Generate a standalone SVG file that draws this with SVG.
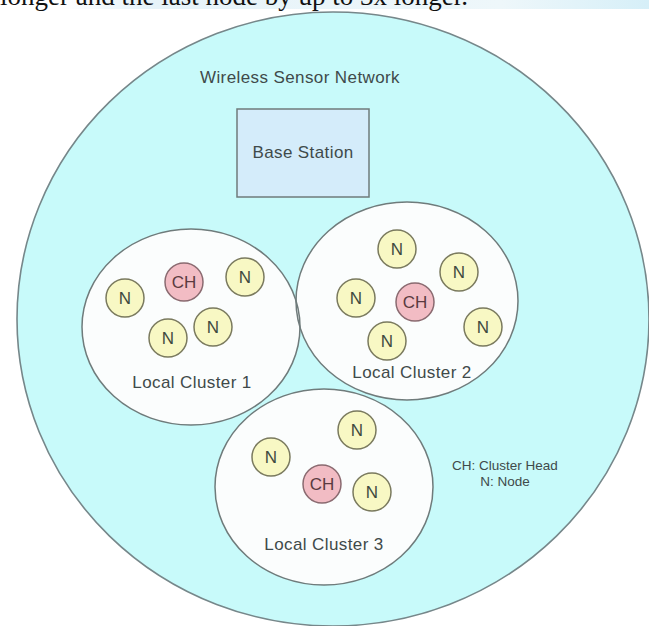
<svg xmlns="http://www.w3.org/2000/svg" width="649" height="626" viewBox="0 0 649 626">
  <style>
    .lbl { font-family: "Liberation Sans", Arial, sans-serif; font-size: 17px; letter-spacing: 0.4px; fill: #404a4a; text-anchor: middle; }
    .legend { font-family: "Liberation Sans", Arial, sans-serif; font-size: 13.5px; fill: #404a4a; text-anchor: middle; }
    .cluster-fill { fill: #fbfdfd; stroke: none; }
    .cluster-edge { fill: none; stroke: #6f7b7b; stroke-width: 1.5; }
    .n circle { fill: #f8f8c4; stroke: #7a7a5e; stroke-width: 1.5; }
    .ch circle { fill: #f2bcc4; stroke: #8a6a70; stroke-width: 1.5; }
    .n text, .ch text { font-family: "Liberation Sans", Arial, sans-serif; font-size: 17px; text-anchor: middle; }
    .n text { fill: #404a40; }
    .ch text { fill: #5a3a40; }
  </style>
  <defs>
    <linearGradient id="band" x1="0" y1="0" x2="1" y2="0">
      <stop offset="0" stop-color="#ffffff"/>
      <stop offset="0.15" stop-color="#e6f3f9"/>
      <stop offset="0.75" stop-color="#eef7fa"/>
      <stop offset="1" stop-color="#d6eff8"/>
    </linearGradient>
  </defs>

  <rect width="649" height="626" fill="#ffffff"/>

  <!-- page strip and running text above the figure -->
  <rect x="60" y="0" width="589" height="9" fill="url(#band)"/>
  <text x="0" y="5" font-family="'Liberation Serif', 'Times New Roman', serif" font-size="27" fill="#111111">longer and the last node by up to 3x longer.</text>

  <!-- network boundary -->
  <g id="network">
    <ellipse cx="333" cy="319" rx="316" ry="307" fill="#c8fafa" stroke="#76878a" stroke-width="1.6"/>
    <text class="lbl" x="300" y="83">Wireless Sensor Network</text>
  </g>

  <g id="base-station">
    <rect x="237" y="109" width="132" height="88" fill="#d4ecfa" stroke="#6f7b7b" stroke-width="1.5"/>
    <text class="lbl" x="303" y="158">Base Station</text>
  </g>

  <!-- cluster areas: fills first so every outline stays visible where they overlap -->
  <g id="cluster-areas">
    <ellipse class="cluster-fill" cx="191" cy="327" rx="109" ry="98"/>
    <ellipse class="cluster-fill" cx="407" cy="301" rx="111" ry="99"/>
    <ellipse class="cluster-fill" cx="324" cy="487" rx="109" ry="98"/>
  </g>

  <g id="cluster-1">
    <ellipse class="cluster-edge" cx="191" cy="327" rx="109" ry="98"/>
    <text class="lbl" x="192" y="388">Local Cluster 1</text>
    <g id="c1-n1" class="n"><circle cx="125" cy="298" r="19"/><text x="125" y="304">N</text></g>
    <g id="c1-ch" class="ch"><circle cx="184" cy="282" r="19"/><text x="184" y="288">CH</text></g>
    <g id="c1-n2" class="n"><circle cx="245" cy="277" r="19"/><text x="245" y="283">N</text></g>
    <g id="c1-n3" class="n"><circle cx="168" cy="338" r="19"/><text x="168" y="344">N</text></g>
    <g id="c1-n4" class="n"><circle cx="213" cy="327" r="19"/><text x="213" y="333">N</text></g>
  </g>

  <g id="cluster-2">
    <ellipse class="cluster-edge" cx="407" cy="301" rx="111" ry="99"/>
    <text class="lbl" x="412" y="378">Local Cluster 2</text>
    <g id="c2-n1" class="n"><circle cx="397" cy="249" r="19"/><text x="397" y="255">N</text></g>
    <g id="c2-n2" class="n"><circle cx="459" cy="272" r="19"/><text x="459" y="278">N</text></g>
    <g id="c2-n3" class="n"><circle cx="356" cy="298" r="19"/><text x="356" y="304">N</text></g>
    <g id="c2-ch" class="ch"><circle cx="415" cy="302" r="19"/><text x="415" y="308">CH</text></g>
    <g id="c2-n4" class="n"><circle cx="483" cy="327" r="19"/><text x="483" y="333">N</text></g>
    <g id="c2-n5" class="n"><circle cx="387" cy="341" r="19"/><text x="387" y="347">N</text></g>
  </g>

  <g id="cluster-3">
    <ellipse class="cluster-edge" cx="324" cy="487" rx="109" ry="98"/>
    <text class="lbl" x="324" y="550">Local Cluster 3</text>
    <g id="c3-n1" class="n"><circle cx="357" cy="430" r="19"/><text x="357" y="436">N</text></g>
    <g id="c3-n2" class="n"><circle cx="271" cy="457" r="19"/><text x="271" y="463">N</text></g>
    <g id="c3-ch" class="ch"><circle cx="322" cy="484" r="19"/><text x="322" y="490">CH</text></g>
    <g id="c3-n3" class="n"><circle cx="372" cy="492" r="19"/><text x="372" y="498">N</text></g>
  </g>

  <g id="legend">
    <text class="legend" x="505" y="470">CH: Cluster Head</text>
    <text class="legend" x="505" y="486">N: Node</text>
  </g>
</svg>
